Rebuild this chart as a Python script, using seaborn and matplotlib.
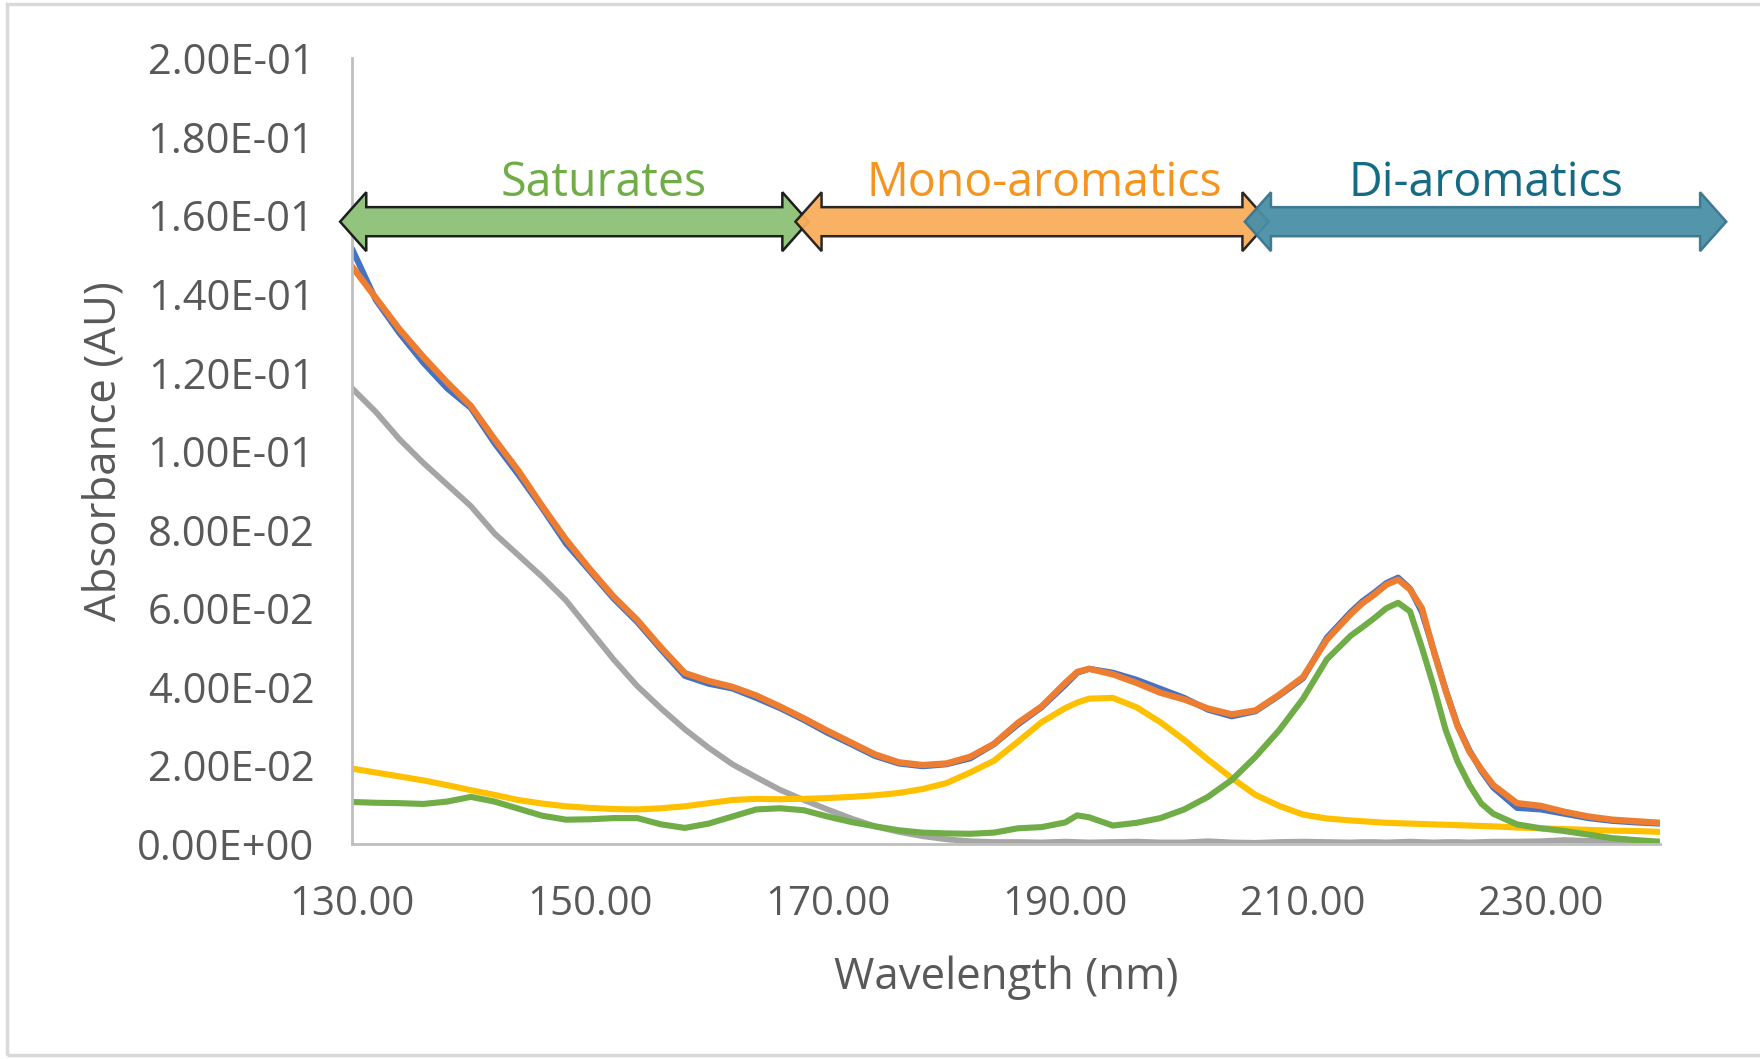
import matplotlib
matplotlib.use("Agg")
import matplotlib.pyplot as plt
import matplotlib.patches as mpatches
from matplotlib.ticker import FuncFormatter
import numpy as np
import pandas as pd
import seaborn as sns

# Wavelength grid (nm)
wavelength = [130, 132, 134, 136, 138, 140, 142, 144, 146, 148, 150, 152, 154, 156, 158,
              160, 162, 164, 166, 168, 170, 172, 174, 176, 178, 180, 182, 184, 186, 188,
              190, 191, 192, 194, 196, 198, 200, 202, 204, 206, 208, 210, 212, 214, 215,
              216, 217, 218, 219, 220, 221, 222, 223, 224, 225, 226, 228, 230, 232, 234,
              236, 238, 240]

# Measured absorbance (AU)
measured = [0.1515, 0.1385, 0.1300, 0.1225, 0.1160, 0.1110, 0.1020, 0.0940, 0.0855, 0.0765,
            0.0695, 0.0625, 0.0565, 0.0495, 0.0428, 0.0408, 0.0396, 0.0372, 0.0346, 0.0316,
            0.0283, 0.0254, 0.0224, 0.0205, 0.0198, 0.0203, 0.0218, 0.0254, 0.0304, 0.0348,
            0.0405, 0.0436, 0.0446, 0.0436, 0.0418, 0.0395, 0.0372, 0.0342, 0.0325, 0.0338,
            0.0378, 0.0422, 0.0525, 0.0590, 0.0618, 0.0640, 0.0664, 0.0678, 0.0650, 0.0590,
            0.0492, 0.0392, 0.0302, 0.0238, 0.0186, 0.0144, 0.0092, 0.0088, 0.0077, 0.0066,
            0.0059, 0.0055, 0.0052]

# Sum of fitted components
fitted = [0.1470, 0.1390, 0.1310, 0.1240, 0.1175, 0.1115, 0.1030, 0.0950, 0.0860, 0.0775,
          0.0700, 0.0630, 0.0570, 0.0500, 0.0435, 0.0415, 0.0400, 0.0378, 0.0350, 0.0320,
          0.0288, 0.0258, 0.0228, 0.0208, 0.0201, 0.0205, 0.0222, 0.0255, 0.0308, 0.0350,
          0.0410, 0.0438, 0.0446, 0.0432, 0.0410, 0.0385, 0.0368, 0.0345, 0.0330, 0.0340,
          0.0380, 0.0425, 0.0520, 0.0585, 0.0613, 0.0635, 0.0660, 0.0673, 0.0648, 0.0600,
          0.0490, 0.0390, 0.0300, 0.0235, 0.0190, 0.0150, 0.0104, 0.0097, 0.0082, 0.0070,
          0.0062, 0.0058, 0.0054]

# Saturates component
saturates = [0.1160, 0.1100, 0.1030, 0.0970, 0.0915, 0.0860, 0.0790, 0.0735, 0.0680, 0.0620,
             0.0545, 0.0470, 0.0402, 0.0345, 0.0292, 0.0245, 0.0203, 0.0170, 0.0138, 0.0112,
             0.0088, 0.0065, 0.0045, 0.0031, 0.0020, 0.0012, 0.0007, 0.0005, 0.0005, 0.0004,
             0.0006, 0.0005, 0.0004, 0.0005, 0.0006, 0.0004, 0.0004, 0.0007, 0.0004, 0.0003,
             0.0005, 0.0006, 0.0005, 0.0004, 0.0005, 0.0005, 0.0004, 0.0005, 0.0006, 0.0005,
             0.0004, 0.0005, 0.0005, 0.0004, 0.0005, 0.0006, 0.0006, 0.0007, 0.0010, 0.0008,
             0.0006, 0.0005, 0.0004]

# Mono-aromatics component
mono_aromatics = [0.0192, 0.0182, 0.0172, 0.0162, 0.0150, 0.0137, 0.0125, 0.0112, 0.0103, 0.0096,
                  0.0092, 0.0089, 0.0088, 0.0091, 0.0096, 0.0104, 0.0112, 0.0115, 0.0114, 0.0115,
                  0.0117, 0.0120, 0.0124, 0.0130, 0.0140, 0.0155, 0.0182, 0.0212, 0.0260, 0.0310,
                  0.0346, 0.0360, 0.0370, 0.0372, 0.0348, 0.0310, 0.0265, 0.0215, 0.0168, 0.0125,
                  0.0097, 0.0075, 0.0065, 0.0060, 0.0058, 0.0056, 0.0054, 0.0053, 0.0052, 0.0051,
                  0.0050, 0.0049, 0.0048, 0.0047, 0.0046, 0.0045, 0.0042, 0.0040, 0.0038, 0.0036,
                  0.0034, 0.0033, 0.0031]

# Di-aromatics component
di_aromatics = [0.0107, 0.0105, 0.0104, 0.0102, 0.0108, 0.0120, 0.0108, 0.0090, 0.0072, 0.0062,
                0.0063, 0.0066, 0.0066, 0.0050, 0.0041, 0.0052, 0.0070, 0.0088, 0.0091, 0.0086,
                0.0070, 0.0056, 0.0045, 0.0035, 0.0029, 0.0027, 0.0026, 0.0029, 0.0040, 0.0043,
                0.0055, 0.0073, 0.0068, 0.0047, 0.0054, 0.0066, 0.0088, 0.0120, 0.0163, 0.0222,
                0.0290, 0.0370, 0.0470, 0.0530, 0.0552, 0.0575, 0.0600, 0.0614, 0.0592, 0.0500,
                0.0400, 0.0290, 0.0210, 0.0150, 0.0103, 0.0077, 0.0050, 0.0040, 0.0033, 0.0024,
                0.0015, 0.0010, 0.0006]

series_names = ["Measured", "Fit", "Saturates", "Mono-aromatics", "Di-aromatics"]
series_colors = ["#4472C4", "#ED7D31", "#A5A5A5", "#FFC000", "#70AD47"]
series_widths = [4.4, 4.6, 4.2, 4.4, 4.4]

# Spectral regions annotated above the curves
region_labels = ["Saturates", "Mono-aromatics", "Di-aromatics"]
region_starts = [129.0, 167.3, 205.1]
region_ends = [168.4, 207.1, 245.6]
region_fill = ["#93C47D", "#F9AE5B", "#4A8FA7"]
region_edge = ["#1E1E1E", "#1E1E1E", "#3A778F"]
region_text = ["#70AD47", "#F5951F", "#156B84"]

y_ticks = [0.0, 0.02, 0.04, 0.06, 0.08, 0.10, 0.12, 0.14, 0.16, 0.18, 0.20]
x_ticks = [130, 150, 170, 190, 210, 230]

df = pd.DataFrame({
    "wavelength": wavelength * 5,
    "absorbance": measured + fitted + saturates + mono_aromatics + di_aromatics,
    "series": np.repeat(series_names, len(wavelength)),
})

sns.set_theme(style="white")
plt.rcParams["font.family"] = ["Open Sans", "DejaVu Sans"]
plt.rcParams["lines.solid_joinstyle"] = "round"
plt.rcParams["lines.solid_capstyle"] = "round"

fig = plt.figure(figsize=(17.6, 10.59), dpi=100)
ax = fig.add_axes([0.200, 0.203, 0.743, 0.742])

for name, color, lw in zip(series_names, series_colors, series_widths):
    sns.lineplot(data=df[df["series"] == name], x="wavelength", y="absorbance",
                 color=color, linewidth=lw, ax=ax, sort=False, estimator=None,
                 legend=False)

ax.set_xlim(130, 240)
ax.set_ylim(0, 0.20)
ax.set_xticks(x_ticks)
ax.set_yticks(y_ticks)
ax.xaxis.set_major_formatter(FuncFormatter(lambda v, p: f"{v:.2f}"))
ax.yaxis.set_major_formatter(FuncFormatter(lambda v, p: f"{v:.2E}"))
ax.tick_params(axis="y", length=0, labelsize=30, colors="#595959", pad=27)
ax.tick_params(axis="x", length=0, labelsize=29, colors="#595959", pad=29)

for side in ["top", "right"]:
    ax.spines[side].set_visible(False)
for side in ["left", "bottom"]:
    ax.spines[side].set_color("#BFBFBF")
    ax.spines[side].set_linewidth(2.0)

ax.set_xlabel("Wavelength (nm)", fontsize=31.5, color="#595959", labelpad=22)
ax.set_ylabel("Absorbance (AU)", fontsize=31.5, color="#595959", labelpad=8)


def block_arrow(x0, x1, yc, shaft_half, head_half, head_len):
    return [
        (x0, yc),
        (x0 + head_len, yc + head_half),
        (x0 + head_len, yc + shaft_half),
        (x1 - head_len, yc + shaft_half),
        (x1 - head_len, yc + head_half),
        (x1, yc),
        (x1 - head_len, yc - head_half),
        (x1 - head_len, yc - shaft_half),
        (x0 + head_len, yc - shaft_half),
        (x0 + head_len, yc - head_half),
    ]


arrow_y = 0.1584
label_shift = [2.5, 1.0, 0.0]
for i, (lab, xs, xe) in enumerate(zip(region_labels, region_starts, region_ends)):
    verts = block_arrow(xs, xe, arrow_y, 0.0037, 0.0075, 2.2)
    poly = mpatches.Polygon(verts, closed=True, facecolor=region_fill[i],
                            edgecolor=region_edge[i], linewidth=1.8,
                            alpha=0.95 if i else 1.0, clip_on=False, zorder=5 + i)
    ax.add_patch(poly)
    ax.text((xs + xe) / 2 + label_shift[i], 0.1683, lab, color=region_text[i],
            fontsize=33.5, ha="center", va="center", zorder=10)

# Light frame around the whole figure
frame = mpatches.Rectangle((0.004, 0.004), 1.2, 0.992, transform=fig.transFigure,
                           facecolor="none", edgecolor="#D9D9D9", linewidth=2.5)
fig.patches.append(frame)

fig.savefig("out.png", dpi=100, facecolor="white")
